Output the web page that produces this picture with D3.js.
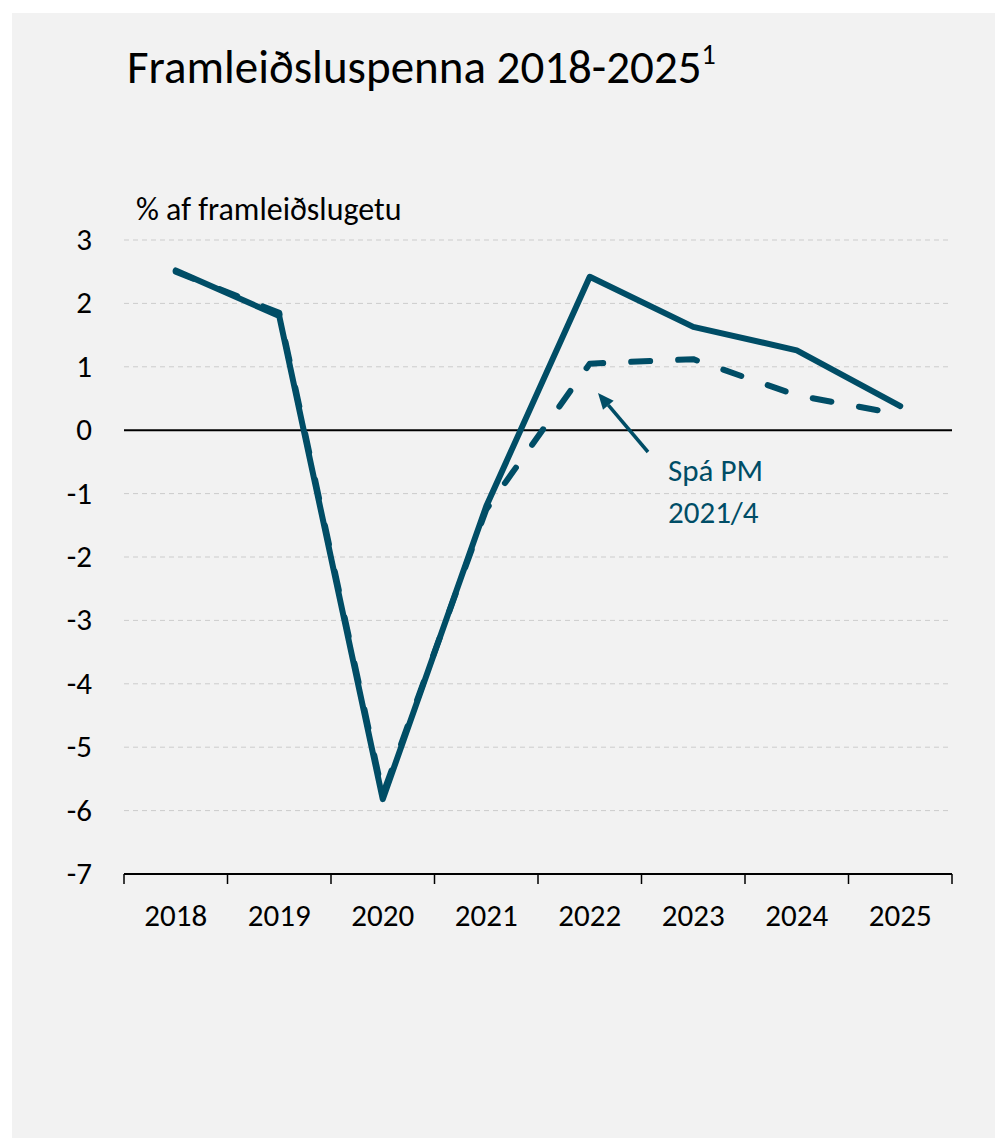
<!DOCTYPE html>
<html>
<head>
<meta charset="utf-8">
<script src="https://cdn.jsdelivr.net/npm/d3@7"></script>
<style>
  html, body { margin: 0; padding: 0; background: #ffffff; }
  svg { display: block; }
  text { font-family: Carlito, Calibri, "Open Sans", sans-serif; }
</style>
</head>
<body>
<script>
const years = ["2018", "2019", "2020", "2021", "2022", "2023", "2024", "2025"];
const actual = [2.52, 1.8, -5.82, -1.2, 2.42, 1.63, 1.26, 0.38];
const forecast = [2.5, 1.85, -5.75, -1.25, 1.05, 1.12, 0.55, 0.25];
const yTicks = [3, 2, 1, 0, -1, -2, -3, -4, -5, -6, -7];
const titleText = "Framleiðsluspenna 2018-2025";
const unitLabel = "% af framleiðslugetu";
const noteLines = ["Spá PM", "2021/4"];

const W = 995, H = 1138;
const color = "#004d66";
const svg = d3.select("body").append("svg").attr("width", W).attr("height", H);

svg.append("rect").attr("x", 12).attr("y", 13).attr("width", W - 12).attr("height", H - 13).attr("fill", "#f2f2f2");

const x = d3.scaleBand().domain(years).range([124, 952]).padding(0);
const y = d3.scaleLinear().domain([-7, 3]).range([874, 240]);

// gridlines
svg.append("g").selectAll("line").data(yTicks.filter(d => d !== 0 && d !== -7)).join("line")
  .attr("x1", 124).attr("x2", 952)
  .attr("y1", d => y(d)).attr("y2", d => y(d))
  .attr("stroke", "#cccccc").attr("stroke-width", 1).attr("stroke-dasharray", "5,4");

// y tick labels
svg.append("g").selectAll("text").data(yTicks).join("text")
  .attr("x", 92).attr("y", d => y(d) + 10)
  .attr("text-anchor", "end").attr("font-size", 31).attr("fill", "#000")
  .text(d => d);

// zero line
svg.append("line").attr("x1", 124).attr("x2", 952).attr("y1", y(0)).attr("y2", y(0))
  .attr("stroke", "#000").attr("stroke-width", 2);

// x axis
const xAxis = svg.append("g").attr("transform", `translate(0,${y(-7)})`)
  .call(d3.axisBottom(x).tickSize(0).tickPadding(0).tickFormat(""));
xAxis.select(".domain").remove();
xAxis.append("line").attr("x1", 124).attr("x2", 952).attr("y1", 0).attr("y2", 0).attr("stroke", "#000").attr("stroke-width", 2);
const bounds = years.map(d => x(d)).concat([x(years[years.length - 1]) + x.bandwidth()]);
xAxis.selectAll(".bt").data(bounds).join("line").attr("class", "bt")
  .attr("x1", d => d).attr("x2", d => d).attr("y1", 0).attr("y2", 10)
  .attr("stroke", "#000").attr("stroke-width", 1.5);
xAxis.selectAll(".xl").data(years).join("text").attr("class", "xl")
  .attr("x", d => x(d) + x.bandwidth() / 2).attr("y", 52)
  .attr("text-anchor", "middle").attr("font-size", 31).attr("fill", "#000")
  .text(d => d);

const line = d3.line().x((d, i) => x(years[i]) + x.bandwidth() / 2).y(d => y(d));

svg.append("path").datum(forecast).attr("d", line).attr("fill", "none")
  .attr("stroke", color).attr("stroke-width", 6).attr("stroke-linecap", "round").attr("stroke-linejoin", "round")
  .attr("stroke-dasharray", "19,28");
svg.append("path").datum(actual).attr("d", line).attr("fill", "none")
  .attr("stroke", color).attr("stroke-width", 6).attr("stroke-linejoin", "round").attr("stroke-linecap", "round");

// annotation arrow
const ax1 = 648, ay1 = 452, ax2 = 598, ay2 = 393;
const ang = Math.atan2(ay2 - ay1, ax2 - ax1);
const hl = 16, hw = 7;
const bx = ax2 - hl * Math.cos(ang), by = ay2 - hl * Math.sin(ang);
svg.append("line").attr("x1", ax1).attr("y1", ay1).attr("x2", bx).attr("y2", by)
  .attr("stroke", color).attr("stroke-width", 3.5);
svg.append("path")
  .attr("d", `M${ax2},${ay2} L${bx + hw * Math.sin(ang)},${by - hw * Math.cos(ang)} L${bx - hw * Math.sin(ang)},${by + hw * Math.cos(ang)} Z`)
  .attr("fill", color);

svg.append("g").selectAll("text").data(noteLines).join("text")
  .attr("x", 668).attr("y", (d, i) => 481 + i * 42)
  .attr("font-size", 31).attr("fill", color).text(d => d);

// title
const t = svg.append("text").attr("x", 127).attr("y", 83).attr("font-size", 47).attr("fill", "#000");
t.append("tspan").text(titleText);
t.append("tspan").attr("font-size", 28).attr("dy", -19).text("1");

svg.append("text").attr("x", 136).attr("y", 220).attr("font-size", 32).attr("fill", "#000").text(unitLabel);
</script>
</body>
</html>
